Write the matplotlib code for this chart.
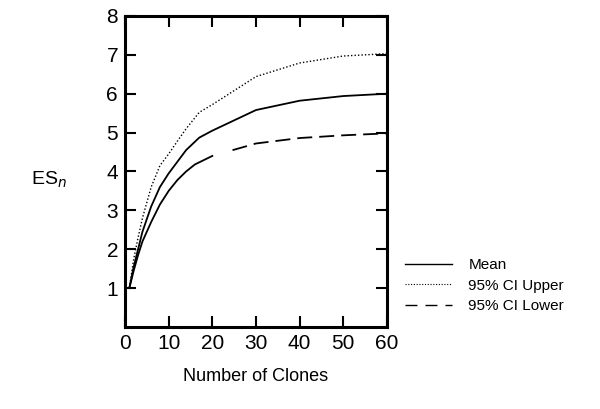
import matplotlib
matplotlib.use("Agg")
import matplotlib.pyplot as plt
from matplotlib.lines import Line2D

plt.rcParams['font.family'] = ['Liberation Sans', 'DejaVu Sans']

clones = [1, 2, 3, 4, 6, 8, 10, 12, 14, 17, 20, 30, 40, 50, 60]
mean = [1.0, 1.55, 2.0, 2.45, 3.1, 3.6, 3.95, 4.25, 4.55, 4.87, 5.05, 5.58, 5.82, 5.94, 6.0]
upper = [1.0, 1.75, 2.3, 2.8, 3.6, 4.15, 4.45, 4.78, 5.1, 5.52, 5.72, 6.44, 6.79, 6.97, 7.03]
clones_low = [1, 2, 3, 4, 6, 8, 10, 12, 14, 16, 20, 30, 40, 50, 60]
lower = [1.0, 1.45, 1.85, 2.2, 2.7, 3.15, 3.5, 3.78, 4.0, 4.18, 4.4, 4.72, 4.86, 4.93, 4.98]

xticks = [0, 10, 20, 30, 40, 50, 60]
yticks = [1, 2, 3, 4, 5, 6, 7, 8]

fig = plt.figure(figsize=(6, 4.09), dpi=100)
ax = fig.add_axes([0.2083, 0.2005, 0.4367, 0.7605])

ax.plot(clones, mean, color='black', lw=1.3, ls='-')
ax.plot(clones, upper, color='black', lw=1.0, ls=(0, (1, 1.5)))

# lower CI: dense early part drawn solid, sparse tail dashed
split = clones_low.index(20)
ax.plot(clones_low[:split + 1], lower[:split + 1], color='black', lw=1.3, ls='-')
lw_l = 1.3
d = 15 * 0.72 / lw_l
g = 7 * 0.72 / lw_l
g0 = 21 * 0.72 / lw_l
pattern = [0, g0] + [d, g] * 12 + [d, 200]
ax.plot(clones_low[split:], lower[split:], color='black', lw=lw_l,
        ls=(0, pattern), dash_capstyle='butt')

ax.set_xlim(0, 60)
ax.set_ylim(0, 8)
ax.set_xticks(xticks)
ax.set_yticks(yticks)
ax.tick_params(direction='in', length=8, width=1.5, top=True, right=True,
               labelsize=15, pad=5)
for s in ax.spines.values():
    s.set_linewidth(2.2)

ax.set_xlabel('Number of Clones', fontsize=13, labelpad=11)
fig.text(0.052, 0.56, r'ES$_{\mathit{n}}$', fontsize=14, ha='left', va='center')

handles = [Line2D([], [], color='black', lw=1.0, ls='-'),
           Line2D([], [], color='black', lw=0.8, ls=(0, (1, 1.5))),
           Line2D([], [], color='black', lw=1.0, ls=(0, (8.6, 5.8)))]
fig.legend(handles, ['Mean', '95% CI Upper', '95% CI Lower'],
           loc='upper left', bbox_to_anchor=(0.652, 0.402), frameon=False,
           fontsize=11, handlelength=3.1, handletextpad=1.05, labelspacing=0.42)

fig.savefig('out.png', dpi=100)
